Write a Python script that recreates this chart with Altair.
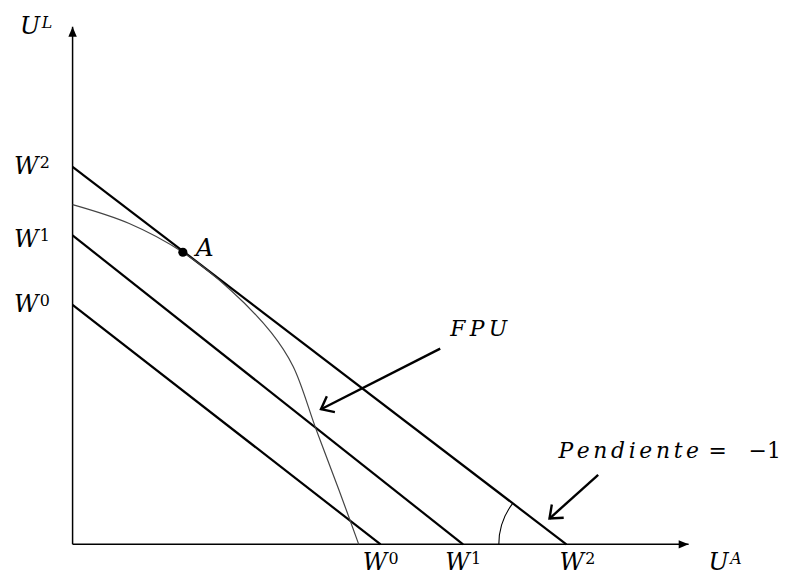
import altair as alt
import numpy as np
import pandas as pd

# ---- data (chart units: 1 unit = 1 px) ----
w_names = ["W0", "W1", "W2"]
w_x_int = [310, 393, 497]     # intercept on U^A axis
w_y_int = [241, 311, 380]     # intercept on U^L axis

fpu_x = [0, 57, 111, 160, 200, 222, 245, 268, 288]
fpu_y = [342, 323, 294, 255, 213, 179, 116, 55, 0]

a_x = [111]
a_y = [294]

axis_end_x = 620
axis_end_y = 521

arrow_x0 = [370, 529]
arrow_y0 = [197, 70]
arrow_x1 = [250, 480]
arrow_y1 = [136, 26]

arc_radius = 68

# labels
main_text = ["U", "W", "W", "W", "W", "W", "W", "U"]
main_x = [-53, -59, -59, -59, 292, 375, 490, 640]
main_y = [521, 380, 306, 241, -19, -19, -19, -19]
sup_text = ["L", "2", "1", "0", "0", "1", "2", "A"]
sup_x = [-31, -33, -33, -33, 318, 401, 516, 662]

xs = alt.Scale(domain=[0, 700], nice=False, zero=False)
ys = alt.Scale(domain=[0, 538], nice=False, zero=False)


def X(f="x"):
    return alt.X(f"{f}:Q", scale=xs, axis=None)


def Y(f="y"):
    return alt.Y(f"{f}:Q", scale=ys, axis=None)


# welfare lines
rows = []
for n, xi, yi in zip(w_names, w_x_int, w_y_int):
    rows.append({"name": n, "x": 0, "y": yi, "o": 0})
    rows.append({"name": n, "x": xi, "y": 0, "o": 1})
wdf = pd.DataFrame(rows)
wlines = alt.Chart(wdf).mark_line(color="black", strokeWidth=2.2).encode(
    x=X(), y=Y(), detail="name:N", order="o:Q")

fdf = pd.DataFrame({"x": fpu_x, "y": fpu_y})
fpu = alt.Chart(fdf).mark_line(color="#444444", strokeWidth=1.2, interpolate="catmull-rom").encode(
    x=X(), y=Y())

# axes
adf = pd.DataFrame({"x": [0, 0], "y": [0, 0], "x2": [axis_end_x, 0], "y2": [0, axis_end_y]})
axes = alt.Chart(adf).mark_rule(color="black", strokeWidth=1.5).encode(
    x=X(), y=Y(), x2="x2:Q", y2="y2:Q")
hdf = pd.DataFrame({"x": [axis_end_x, 0], "y": [0, axis_end_y], "angle": [0, 270]})
heads = alt.Chart(hdf).mark_point(
    shape="M0,0L-2,-0.85L-2,0.85Z", filled=True, size=100, color="black", opacity=1).encode(
    x=X(), y=Y(), angle=alt.Angle("angle:Q", scale=None))

# annotation arrows
ang = [float(np.degrees(np.arctan2(-(y1 - y0), x1 - x0)) % 360)
       for x0, y0, x1, y1 in zip(arrow_x0, arrow_y0, arrow_x1, arrow_y1)]
ardf = pd.DataFrame({"x": arrow_x0, "y": arrow_y0, "x2": arrow_x1, "y2": arrow_y1, "angle": ang})
arrows = alt.Chart(ardf).mark_rule(color="black", strokeWidth=2.4).encode(
    x=X(), y=Y(), x2="x2:Q", y2="y2:Q")
arrowheads = alt.Chart(ardf).mark_point(
    shape="M-1,-0.8L0,0L-1,0.8", filled=False, size=500, color="black",
    strokeWidth=2.4, opacity=1).encode(
    x=X("x2"), y=Y("y2"), angle=alt.Angle("angle:Q", scale=None))

# angle arc at W2 intercept
th2 = float(np.arctan2(-w_x_int[2], w_y_int[2]) % (2 * np.pi))
arcdf = pd.DataFrame({"x": [w_x_int[2]], "y": [0]})
arc = alt.Chart(arcdf).mark_arc(
    radius=arc_radius, radius2=arc_radius, theta=1.5 * np.pi, theta2=th2,
    filled=False, stroke="black", strokeWidth=1.1).encode(x=X(), y=Y())

# point A
pdf = pd.DataFrame({"x": a_x, "y": a_y})
pa = alt.Chart(pdf).mark_point(filled=True, size=85, color="black", opacity=1).encode(x=X(), y=Y())

# labels
mdf = pd.DataFrame({"x": main_x, "y": main_y, "t": main_text})
mains = alt.Chart(mdf).mark_text(
    font="DejaVu Serif", fontStyle="italic", fontSize=24, align="left", baseline="middle",
    color="black").encode(x=X(), y=Y(), text="t:N")
sdf = pd.DataFrame({"x": sup_x, "y": [v + 4 for v in main_y], "t": sup_text})
sdf["isdigit"] = sdf["t"].str.isdigit()
sups_d = alt.Chart(sdf[sdf["isdigit"]]).mark_text(
    font="DejaVu Serif", fontSize=16, align="left", baseline="middle",
    color="black").encode(x=X(), y=Y(), text="t:N")
sups_l = alt.Chart(sdf[~sdf["isdigit"]]).mark_text(
    font="DejaVu Serif", fontStyle="italic", fontSize=16, align="left", baseline="middle",
    color="black").encode(x=X(), y=Y(), text="t:N")

other_text = ["A", "\u2009".join("FPU"), "\u2006".join("Pendiente")]
other_x = [124, 380, 489]
other_y = [298, 217, 94]
other_size = [25, 22, 22]
odf = pd.DataFrame({"x": other_x, "y": other_y, "t": other_text, "s": other_size})
others = alt.Chart(odf).mark_text(
    font="DejaVu Serif", fontStyle="italic", align="left", baseline="middle",
    color="black").encode(x=X(), y=Y(), text="t:N", size=alt.Size("s:Q", scale=None))
eqdf = pd.DataFrame({"x": [640], "y": [94], "t": ["=\u2003\u22121"]})
eq = alt.Chart(eqdf).mark_text(
    font="DejaVu Serif", fontSize=22, align="left", baseline="middle",
    color="black").encode(x=X(), y=Y(), text="t:N")

chart = alt.layer(
    axes, heads, wlines, fpu, arc, arrows, arrowheads, pa, mains, sups_d, sups_l, others, eq
).properties(
    width=700, height=538,
    autosize=alt.AutoSizeParams(type="none"),
    padding={"left": 65, "top": 0, "right": 14, "bottom": 29},
).configure_view(stroke=None)

chart.save("out.html", embed_options={"renderer": "svg", "actions": False})
